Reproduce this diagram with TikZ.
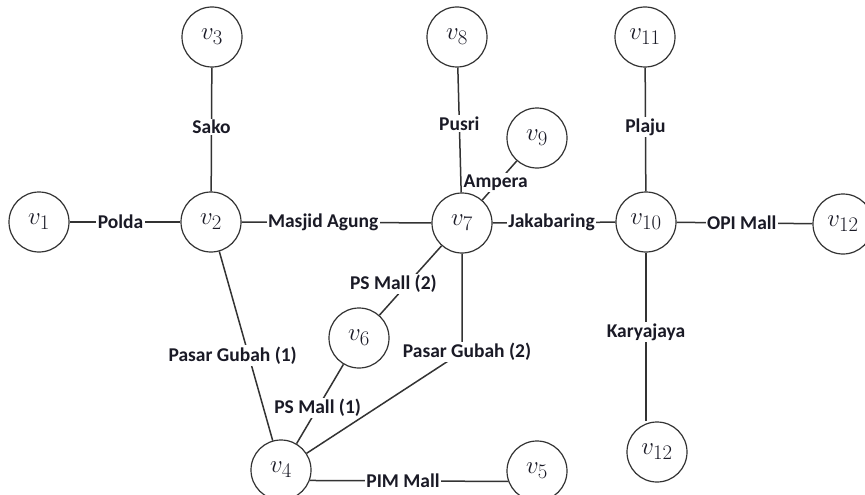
\documentclass[tikz,border=0pt]{standalone}
\usepackage{fontspec}
\newfontfamily\lblfont{Carlito}
\definecolor{ln}{HTML}{333333}
\definecolor{tx}{HTML}{1A1A26}
\begin{document}
\begin{tikzpicture}[x=1pt,y=-1pt,
  vtx/.style={circle,draw=ln,line width=1.2pt,fill=white,minimum size=60pt,inner sep=0pt,
    font=\fontsize{30}{32}\selectfont,text=tx},
  lbl/.style={fill=white,inner sep=1.5pt,text=tx,font=\lblfont\bfseries\fontsize{19.5}{21}\selectfont},
  edge/.style={draw=ln,line width=1.5pt}]
\clip (0,0) rectangle (865,495);
\useasboundingbox (0,0) rectangle (865,495);
\fill[white] (0,0) rectangle (865,495);
% vertices
\node[vtx] (v1) at (39,222) {$v_{1}$};
\node[vtx] (v2) at (211,222) {$v_{2}$};
\node[vtx] (v3) at (212,37) {$v_{3}$};
\node[vtx] (v8) at (457,37) {$v_{8}$};
\node[vtx] (v9) at (537,138) {$v_{9}$};
\node[vtx] (v7) at (462,223) {$v_{7}$};
\node[vtx] (v10) at (646,222) {$v_{10}$};
\node[vtx] (v11) at (645,37) {$v_{11}$};
\node[vtx] (v12r) at (843,224) {$v_{12}$};
\node[vtx] (v12b) at (657,452) {$v_{12}$};
\node[vtx] (v6) at (359,338) {$v_{6}$};
\node[vtx] (v4) at (281,470) {$v_{4}$};
\node[vtx] (v5) at (537,471) {$v_{5}$};
\coordinate (pgc) at (462,352);
% edges
\path[edge] (v1) -- node[lbl,pos=0.46] {Polda} (v2);
\path[edge] (v2) -- node[lbl,pos=0.43] {Masjid Agung} (v7);
\path[edge] (v7) -- node[lbl,pos=0.48] {Jakabaring} (v10);
\path[edge] (v10) -- node[lbl,pos=0.48] {OPI Mall} (v12r);
\path[edge] (v2) -- node[lbl,pos=0.52] {Sako} (v3);
\path[edge] (v7) -- node[lbl,pos=0.55] {Pusri} (v8);
\path[edge] (v10) -- node[lbl,pos=0.52] {Plaju} (v11);
\path[edge] (v10) -- node[lbl,pos=0.47] {Karyajaya} (v10 |- v12b.north);
\path[edge] (v7) -- node[lbl,pos=0.45,xshift=-2pt] {Ampera} (v9);
\path[edge] (v6) -- node[lbl,pos=0.45,xshift=-14pt] {PS Mall (2)} (v7);
\path[edge] (v4) -- node[lbl,pos=0.45] {PS Mall (1)} (v6);
\path[edge] (v2) -- node[lbl,pos=0.55,xshift=-16pt] {Pasar Gubah (1)} (v4);
\path[edge] (v4.-20) -- node[lbl,pos=0.47] {PIM Mall} (v5.-160);
\path[edge] (v7) -- (pgc) -- (v4);
\node[lbl] (pg2) at (467,352) {Pasar Gubah (2)};
\end{tikzpicture}
\end{document}
